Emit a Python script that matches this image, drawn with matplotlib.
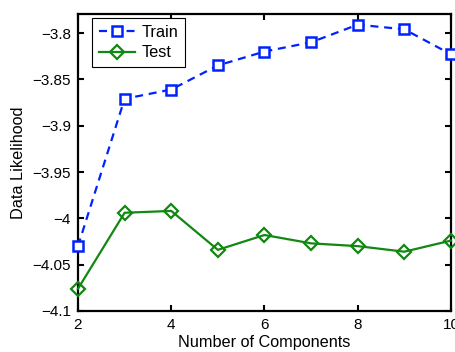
import matplotlib
matplotlib.use("Agg")
import matplotlib.pyplot as plt

components = [2, 3, 4, 5, 6, 7, 8, 9, 10]
train_ll = [-4.030, -3.871, -3.861, -3.835, -3.820, -3.810, -3.791, -3.796, -3.823]
test_ll = [-4.076, -3.994, -3.992, -4.034, -4.018, -4.027, -4.030, -4.036, -4.024]
x_ticks = [2, 4, 6, 8, 10]
y_ticks = [-4.1, -4.05, -4.0, -3.95, -3.9, -3.85, -3.8]
y_tick_labels = ["\u22124.1", "\u22124.05", "\u22124", "\u22123.95", "\u22123.9", "\u22123.85", "\u22123.8"]

plt.rcParams["font.family"] = ["Liberation Sans", "DejaVu Sans"]
plt.rcParams["font.size"] = 11

fig = plt.figure(figsize=(4.56, 3.52), dpi=100)
ax = fig.add_axes([0.171, 0.1165, 0.818, 0.845])

ax.plot(components, train_ll, color="#0022ff", linestyle=(0, (3.6, 2.6)), linewidth=1.6,
        marker="s", markersize=7, markerfacecolor="white", markeredgewidth=1.8,
        label="Train", clip_on=False, zorder=3)
ax.plot(components, test_ll, color="#118811", linestyle="-", linewidth=1.6,
        marker="D", markersize=7.5, markerfacecolor="none", markeredgewidth=1.6,
        label="Test", clip_on=False, zorder=3)

ax.set_xlim(2, 10)
ax.set_ylim(-4.1, -3.779)
ax.set_xticks(x_ticks)
ax.set_yticks(y_ticks)
ax.set_yticklabels(y_tick_labels)
ax.tick_params(direction="in", top=True, right=True, length=4, width=1.5, labelsize=11, pad=5)
for sp in ax.spines.values():
    sp.set_linewidth(1.6)

ax.set_xlabel("Number of Components", fontsize=11.7, labelpad=2)
ax.set_ylabel("Data Likelihood", fontsize=11.7, labelpad=5)

leg = ax.legend(loc="upper left", bbox_to_anchor=(0.0375, 0.985), borderaxespad=0,
                numpoints=1, fancybox=False, edgecolor="black", framealpha=1,
                handlelength=2.2, borderpad=0.4, labelspacing=0.35,
                handletextpad=0.4, fontsize=11.8)
leg.get_frame().set_linewidth(0.8)

fig.savefig("out.png", dpi=100)
